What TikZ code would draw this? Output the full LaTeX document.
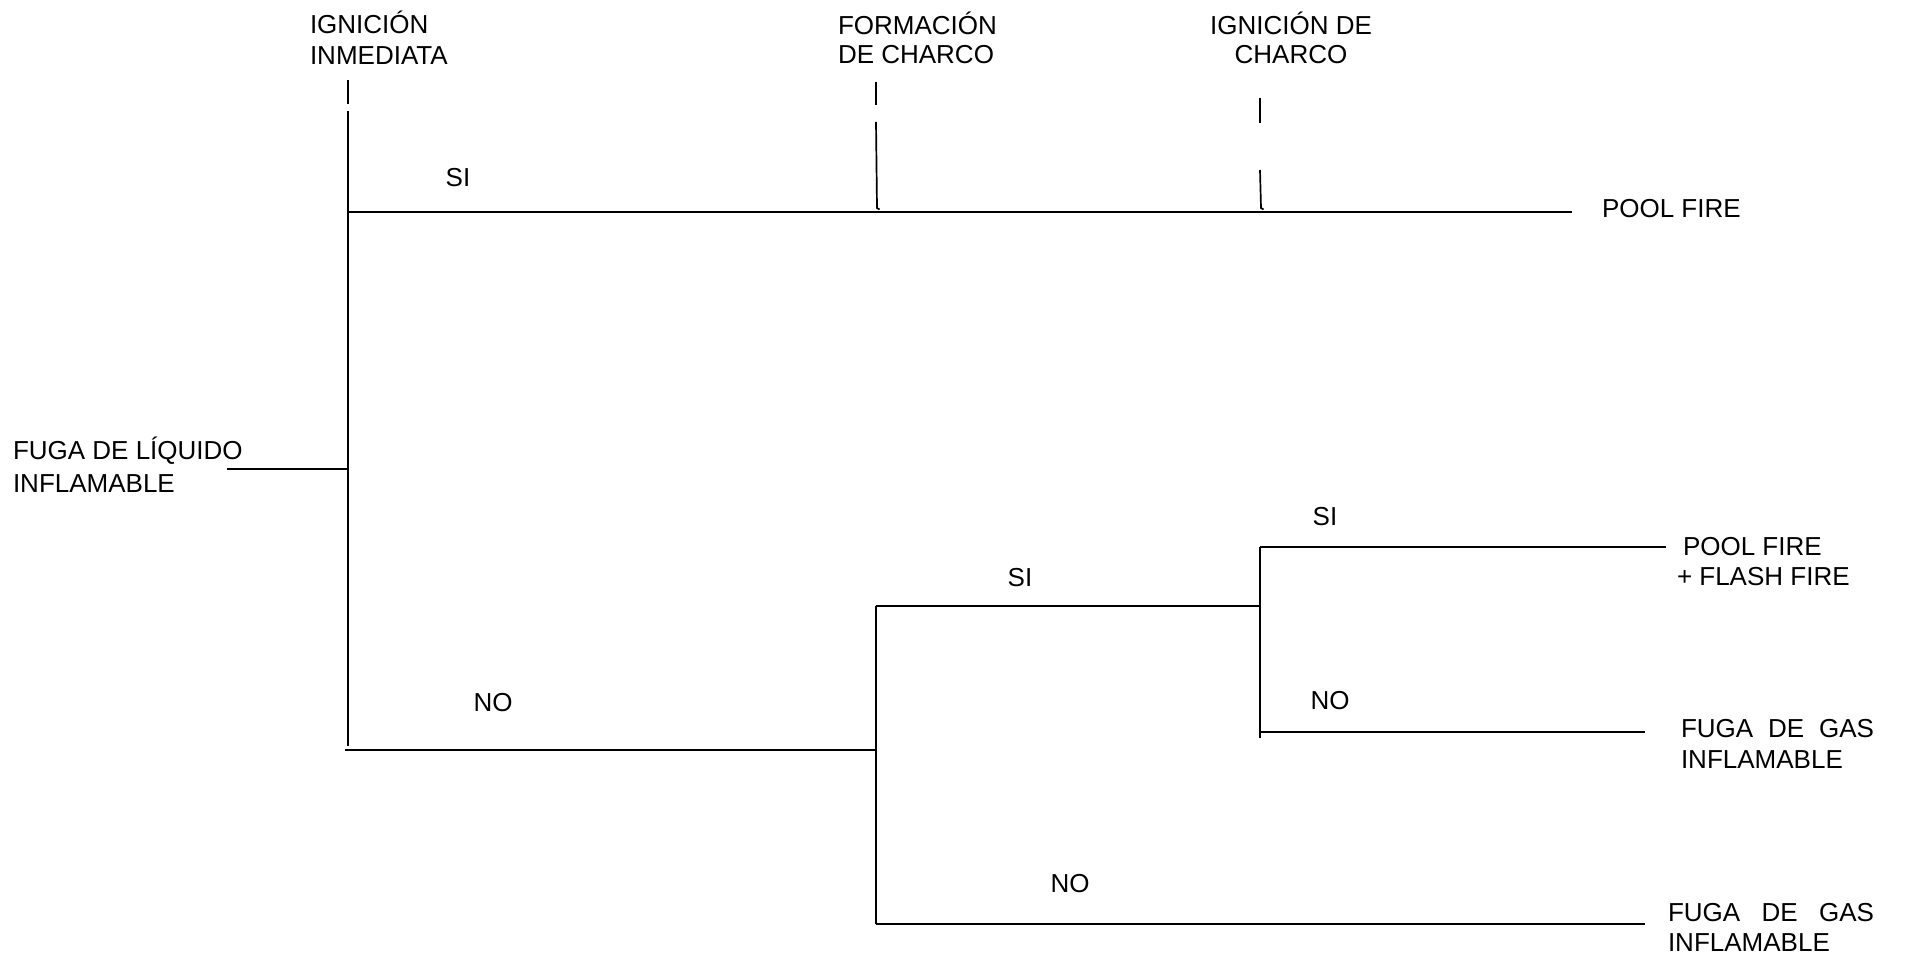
\documentclass[tikz,border=0pt]{standalone}
\usepackage{fontspec}
\setmainfont{Liberation Sans}
\begin{document}
\begin{tikzpicture}[x=1pt,y=-1pt,
  branch/.style={line width=1.7pt, line cap=butt},
  txt/.style={inner sep=0pt, outer sep=0pt, anchor=base west, font=\fontsize{26}{31}\selectfont},
  ctxt/.style={inner sep=0pt, outer sep=0pt, anchor=base, font=\fontsize{26}{31}\selectfont}]
\useasboundingbox (0,0) rectangle (1914,957);

% column headings
\node[txt] (h1a) at (310,34) {IGNICIÓN};
\node[txt] (h1b) at (310,65) {INMEDIATA};
\node[txt] (h2a) at (838,35) {FORMACIÓN};
\node[txt] (h2b) at (838,64) {DE CHARCO};
\node[ctxt] (h3a) at (1291,35) {IGNICIÓN DE};
\node[ctxt] (h3b) at (1291,64) {CHARCO};

% initiating event
\node[txt] (ev1) at (13,459) {FUGA DE LÍQUIDO};
\node[txt] (ev2) at (13,492) {INFLAMABLE};

% branch points
\coordinate (root) at (227,469);
\coordinate (n1) at (348,469);
\coordinate (n1top) at (348,111);
\coordinate (n1bot) at (348,746);
\coordinate (n1si) at (348,212);
\coordinate (n1no) at (345,750);
\coordinate (n2no) at (876,750);
\coordinate (n2top) at (876,606);
\coordinate (n2bot) at (876,924);
\coordinate (n3si) at (1260,606);
\coordinate (n3top) at (1260,547);
\coordinate (n3bot) at (1260,738);
\coordinate (n3no) at (1260,732);

% outcome ends
\coordinate (e1) at (1572,212);
\coordinate (e2) at (1666,547);
\coordinate (e3) at (1645,732);
\coordinate (e4) at (1645,924);

% heading ticks
\coordinate (t1a) at (348,80);  \coordinate (t1b) at (348,104);
\coordinate (t2a) at (876,82);  \coordinate (t2b) at (876,105);
\coordinate (t2c) at (876,122); \coordinate (t2d) at (877,208);
\coordinate (t3a) at (1260,98); \coordinate (t3b) at (1260,123);
\coordinate (t3c) at (1260,170);\coordinate (t3d) at (1261,208);

\draw[branch] (t1a) -- (t1b);
\draw[branch] (t2a) -- (t2b);
\draw[branch] (t2c) -- (t2d) -- ++(2.5,1.5);
\draw[branch] (t3a) -- (t3b);
\draw[branch] (t3c) -- (t3d) -- ++(2.5,1.5);

% tree
\draw[branch] (root) -- (n1);
\draw[branch] (n1top) -- (n1bot);
\draw[branch] (n1si) -- (e1);
\draw[branch] (n1no) -- (n2no);
\draw[branch] (n2top) -- (n2bot);
\draw[branch] (n2top) -- (n3si);
\draw[branch] (n2bot) -- (e4);
\draw[branch] (n3top) -- (n3bot);
\draw[branch] (n3top) -- (e2);
\draw[branch] (n3no) -- (e3);

% branch labels
\node[ctxt] (si1) at (458,187) {SI};
\node[ctxt] (no1) at (493,711) {NO};
\node[ctxt] (si2) at (1020,586) {SI};
\node[ctxt] (si3) at (1325,525) {SI};
\node[ctxt] (no3) at (1330,709) {NO};
\node[ctxt] (no2) at (1070,892) {NO};

% outcomes
\node[txt] (o1) at (1602,218) {POOL FIRE};
\node[txt] (o2a) at (1683,555) {POOL FIRE};
\node[txt] (o2b) at (1677,585) {+ FLASH FIRE};
\node[txt] (o3a) at (1681,737) {\hbox to 193pt{FUGA\hfill DE\hfill GAS}};
\node[txt] (o3b) at (1681,768) {INFLAMABLE};
\node[txt] (o4a) at (1668,921) {\hbox to 206pt{FUGA\hfill DE\hfill GAS}};
\node[txt] (o4b) at (1668,951) {INFLAMABLE};
\end{tikzpicture}
\end{document}
